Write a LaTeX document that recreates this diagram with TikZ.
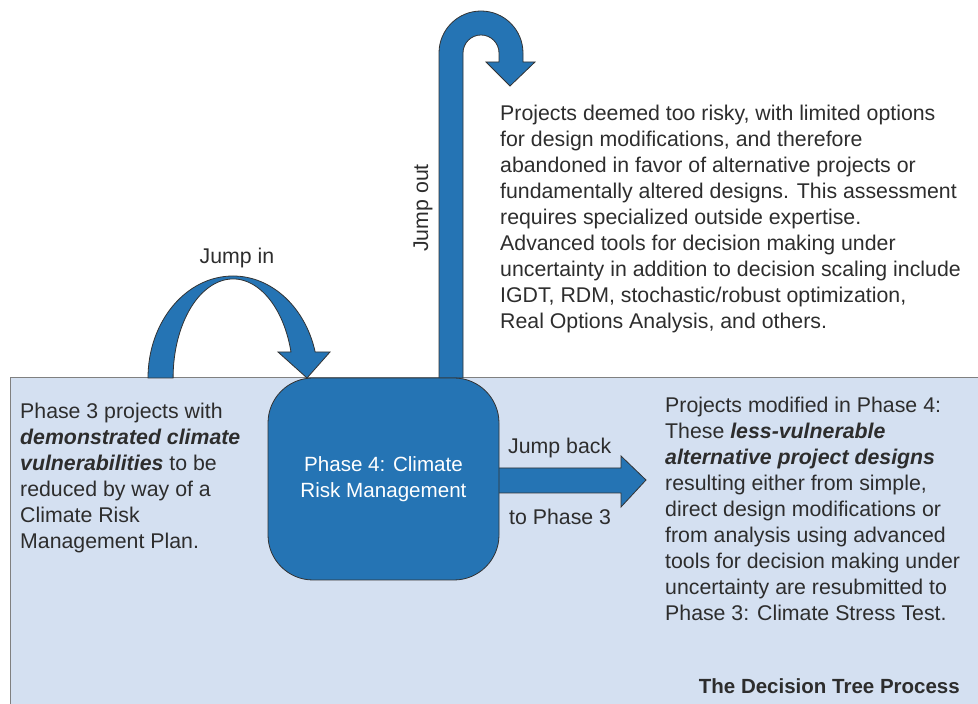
\documentclass[tikz,border=0pt]{standalone}
\usepackage{fontspec}
\setmainfont{Liberation Sans}
\usetikzlibrary{positioning}

\definecolor{riskblue}{RGB}{37,116,180}
\definecolor{panelblue}{RGB}{212,224,241}
\definecolor{txtgray}{RGB}{45,45,45}

\begin{document}
\begin{tikzpicture}[x=1pt,y=1pt,
  body/.style={font=\fontsize{21.3}{26}\selectfont,text=txtgray,inner sep=0pt,align=left},
  block arrow/.style={fill=riskblue,draw=black!80,line width=0.8pt,line join=miter},
  phase node/.style={rounded corners=45pt,fill=riskblue,draw=black!80,line width=0.8pt,
    minimum width=231pt,minimum height=202pt,text=white,align=center,
    font=\fontsize{20.6}{26}\selectfont}]

  \useasboundingbox (0,0) rectangle (978,704);

  % panel behind everything
  \fill[panelblue] (10,0) rectangle (978,326);
  \draw[gray,line width=1pt] (10,0) -- (10,326) -- (978,326);

  % jump in
  \draw[block arrow] (148,326) arc[start angle=180,end angle=14.8,x radius=85,y radius=102]
    -- (330,352) -- (307,326) -- (278,352) -- (291,352)
    arc[start angle=15.2,end angle=180,x radius=60,y radius=99] -- cycle;

  % jump out
  \draw[block arrow] (439,326) -- (439,651) arc[start angle=180,end angle=0,radius=42]
    -- (523,642) -- (535,642) -- (510,618) -- (486,642) -- (499,642) -- (499,651)
    arc[start angle=0,end angle=180,radius=18] -- (463,326) -- cycle;

  % jump back
  \draw[block arrow] (495,236) -- (621,236) -- (621,248) -- (646,224)
    -- (621,197) -- (621,211) -- (495,211) -- cycle;

  \node[phase node] (phase4) at (383.5,225) {Phase 4: Climate\\Risk Management};

  \node[body] (jump in) at (237,446) {Jump in};
  \node[body,rotate=90] (jump out) at (423,496) {Jump out};
  \node[body,anchor=west] (jump back) at (508,256) {Jump back};
  \node[body,anchor=west] (to phase) at (509,187) {to Phase 3};

  \node[body,anchor=north west] (vulnerable) at (20,301)
    {Phase 3 projects with\\\textbf{\textit{demonstrated climate}}\\\textbf{\textit{vulnerabilities}} to be\\reduced by way of a\\Climate Risk\\Management Plan.};

  \node[body,anchor=north west] (abandoned) at (500,599)
    {Projects deemed too risky, with limited options\\for design modifications, and therefore\\abandoned in favor of alternative projects or\\fundamentally altered designs. This assessment\\requires specialized outside expertise.\\Advanced tools for decision making under\\uncertainty in addition to decision scaling include\\IGDT, RDM, stochastic/robust optimization,\\Real Options Analysis, and others.};

  \node[body,anchor=north west] (modified) at (665,307)
    {Projects modified in Phase 4:\\These \textbf{\textit{less-vulnerable}}\\\textbf{\textit{alternative project designs}}\\resulting either from simple,\\direct design modifications or\\from analysis using advanced\\tools for decision making under\\uncertainty are resubmitted to\\Phase 3: Climate Stress Test.};

  \node[font=\bfseries\fontsize{20.5}{24}\selectfont,text=txtgray,anchor=east,inner sep=0pt]
    (title) at (960,18) {The Decision Tree Process};
\end{tikzpicture}
\end{document}
